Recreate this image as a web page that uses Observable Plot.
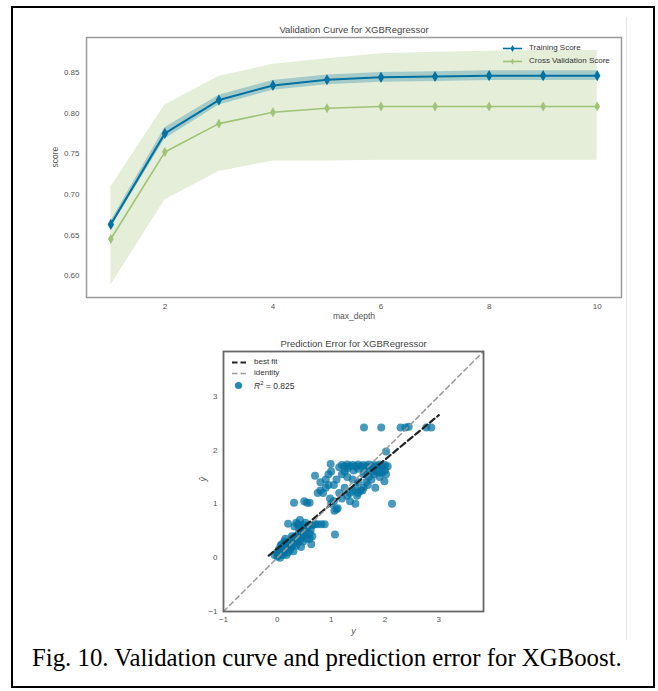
<!DOCTYPE html>
<html>
<head>
<meta charset="utf-8">
<script src="https://cdn.jsdelivr.net/npm/d3@7"></script>
<script src="https://cdn.jsdelivr.net/npm/@observablehq/plot@0.6"></script>
<style>
  html, body { margin: 0; padding: 0; background: #fff; }
  #page { position: relative; width: 658px; height: 691px; overflow: hidden; background: #fff; font-family: "Liberation Sans", Arial, sans-serif; }
  #frame { position: absolute; left: 11px; top: 6px; width: 640px; height: 678px; border: 2px solid #000; }
  #edge { position: absolute; left: 626px; top: 17px; width: 1px; height: 623px; background: #e4e4e4; }
  .chart { position: absolute; left: 0; }
  .leg { position: absolute; font-size: 8px; color: #333; white-space: nowrap; line-height: 1; }
  .leg svg { position: absolute; overflow: visible; }
  #caption { position: absolute; left: 32px; top: 644px; font-family: "Liberation Serif", "Times New Roman", serif; font-size: 24.8px; color: #000; white-space: nowrap; }
</style>
</head>
<body>
<div id="page">
  <div id="frame"></div>
  <div id="edge"></div>
  <div id="topChart" class="chart" style="top:0px"></div>
  <div id="bottomChart" class="chart" style="top:330px"></div>
  <div id="caption">Fig. 10. Validation curve and prediction error for XGBoost.</div>
</div>
<script>
// ---------- Validation curve data ----------
const depths    = [1, 2, 3, 4, 5, 6, 7, 8, 9, 10];
const trainMean = [0.663, 0.775, 0.816, 0.834, 0.841, 0.844, 0.845, 0.846, 0.846, 0.846];
const trainLo   = [0.659, 0.768, 0.810, 0.828, 0.835, 0.838, 0.839, 0.840, 0.840, 0.840];
const trainHi   = [0.667, 0.782, 0.822, 0.840, 0.847, 0.850, 0.851, 0.852, 0.852, 0.852];
const cvMean    = [0.645, 0.752, 0.787, 0.801, 0.806, 0.808, 0.808, 0.808, 0.808, 0.808];
const cvLo      = [0.588, 0.693, 0.728, 0.741, 0.741, 0.742, 0.742, 0.742, 0.742, 0.742];
const cvHi      = [0.709, 0.810, 0.845, 0.860, 0.867, 0.873, 0.875, 0.876, 0.877, 0.877];
const xTicksTop = [2, 4, 6, 8, 10];
const yTicksTop = [0.60, 0.65, 0.70, 0.75, 0.80, 0.85];

// ---------- Prediction error data ----------
const yTrue = [
  0.00,0.02,0.05,0.05,0.08,0.10,0.10,0.12,0.14,0.15,0.17,0.18,0.20,0.20,0.22,0.24,0.25,0.26,0.28,0.30,
  0.30,0.32,0.34,0.35,0.36,0.38,0.40,0.42,0.44,0.45,0.48,0.50,0.06,0.03,0.13,0.08,-0.05,0.00,0.15,0.27,
  0.20,0.32,0.35,0.38,0.42,0.45,0.48,0.50,0.52,0.55,0.58,0.60,0.62,0.65,0.70,0.75,0.82,0.88,0.63,0.55,
  0.60,0.45,0.65,1.07,0.40,0.52,
  0.31,0.55,0.60,0.50,0.70,0.75,0.80,0.85,0.90,0.95,0.80,0.90,0.98,1.00,1.05,1.06,1.10,1.12,1.05,1.10,
  1.15,1.20,1.25,1.30,1.35,1.40,1.45,1.50,1.55,1.60,1.35,1.45,1.50,1.65,1.70,1.75,1.82,1.80,1.85,1.90,
  1.99,2.13,1.20,1.30,1.40,1.60,1.25,0.95,1.00,1.58,1.68,1.48,
  0.99,1.20,1.25,1.30,1.35,1.40,1.45,1.50,1.55,1.60,1.65,1.70,1.75,1.80,1.85,1.90,1.95,2.00,2.05,1.15,
  1.30,1.50,1.70,1.90,2.00,1.95,2.02,1.42,1.62,1.78,1.88,
  1.61,1.93,2.29,2.38,2.44,2.77,2.86,2.02
];
const yPred = [
  0.02,0.05,0.00,0.08,0.12,0.05,0.20,0.10,0.15,0.25,0.05,0.18,0.10,0.28,0.22,0.15,0.30,0.20,0.35,0.25,
  0.12,0.30,0.40,0.22,0.35,0.28,0.45,0.32,0.20,0.38,0.30,0.42,0.22,0.15,0.30,0.25,0.05,0.10,0.35,0.40,
  0.63,0.58,0.65,0.62,0.70,0.55,0.60,0.50,0.65,0.55,0.60,0.45,0.52,0.60,0.62,0.62,0.62,0.62,0.25,0.35,
  0.35,0.48,0.40,0.43,0.55,0.45,
  1.02,1.02,1.02,1.05,1.52,1.20,1.25,1.20,1.30,1.35,1.40,1.45,1.10,1.00,1.05,0.87,0.90,0.92,1.35,1.45,
  1.20,1.10,1.30,1.15,1.20,1.25,1.30,1.20,1.25,1.30,1.05,1.00,1.40,1.40,1.50,1.45,1.30,1.55,1.60,1.50,
  1.42,1.00,1.55,1.50,1.45,1.55,1.60,1.55,1.60,1.25,1.35,1.15,
  1.74,1.72,1.70,1.73,1.70,1.72,1.70,1.73,1.70,1.72,1.70,1.73,1.70,1.72,1.70,1.73,1.70,1.72,1.70,1.68,
  1.65,1.65,1.65,1.65,1.62,1.58,1.55,1.62,1.60,1.60,1.58,
  2.42,2.42,2.42,2.42,2.43,2.42,2.42,1.97
];
const peDomain = [-1, 3.83];
const peTicks = [-1, 0, 1, 2, 3];
const fitSlope = 0.826, fitIntercept = 0.17, fitRange = [-0.16, 3.0];
const r2 = 0.825;

const BLUE = "#0272a2", GREEN = "#9fc377";

// ---------- Top chart ----------
const vc = depths.map((d, i) => ({depth: d, train: trainMean[i], tlo: trainLo[i], thi: trainHi[i], cv: cvMean[i], clo: cvLo[i], chi: cvHi[i]}));

const topPlot = Plot.plot({
  width: 658, height: 330,
  marginLeft: 86, marginRight: 37, marginTop: 37, marginBottom: 33,
  style: {fontFamily: "'Liberation Sans', Arial, sans-serif", fontSize: "8px", color: "#555", background: "transparent"},
  x: {domain: [0.55, 10.45], ticks: xTicksTop, tickSize: 0, tickPadding: 6, label: null, tickFormat: d3.format("d")},
  y: {domain: [0.573, 0.893], ticks: yTicksTop, tickSize: 0, tickPadding: 7, label: null, tickFormat: d3.format(".2f")},
  marks: [
    Plot.areaY(vc, {x: "depth", y1: "clo", y2: "chi", fill: GREEN, fillOpacity: 0.28}),
    Plot.areaY(vc, {x: "depth", y1: "tlo", y2: "thi", fill: BLUE, fillOpacity: 0.28}),
    Plot.line(vc, {x: "depth", y: "cv", stroke: GREEN, strokeWidth: 1.6}),
    Plot.dot(vc, {x: "depth", y: "cv", symbol: "diamond", r: 3, fill: GREEN, stroke: "none"}),
    Plot.line(vc, {x: "depth", y: "train", stroke: BLUE, strokeWidth: 2}),
    Plot.dot(vc, {x: "depth", y: "train", symbol: "diamond", r: 3.4, fill: BLUE, stroke: "none"}),
    Plot.frame({stroke: "#9a9a9a", strokeWidth: 1.5}),
    Plot.text(["Validation Curve for XGBRegressor"], {text: d => d, frameAnchor: "top", dy: -11, fontSize: 9.5, fill: "#444"}),
    Plot.text(["max_depth"], {text: d => d, frameAnchor: "bottom", dy: 21, fontSize: 8.5, fill: "#555"}),
    Plot.text(["score"], {text: d => d, frameAnchor: "left", dx: -31, rotate: -90, fontSize: 8.5, fill: "#555"})
  ]
});
document.getElementById("topChart").appendChild(topPlot);

// ---------- Bottom chart ----------
const pts = yTrue.map((v, i) => ({y: v, yhat: yPred[i]}));
const identity = peDomain.map(v => ({x: v, y: v}));
const fit = fitRange.map(v => ({x: v, y: fitIntercept + fitSlope * v}));
const minusFmt = d => d < 0 ? "\u2212" + Math.abs(d) : String(d);

const bottomPlot = Plot.plot({
  width: 658, height: 310,
  marginLeft: 223, marginRight: 175, marginTop: 21, marginBottom: 29,
  style: {fontFamily: "'Liberation Sans', Arial, sans-serif", fontSize: "8px", color: "#555", background: "transparent"},
  x: {domain: peDomain, ticks: peTicks, tickSize: 0, tickPadding: 5, label: null, tickFormat: minusFmt},
  y: {domain: peDomain, ticks: peTicks, tickSize: 0, tickPadding: 6, label: null, tickFormat: minusFmt},
  marks: [
    Plot.dot(pts, {x: "y", y: "yhat", r: 4, fill: BLUE, fillOpacity: 0.72, stroke: "none"}),
    Plot.line(fit, {x: "x", y: "y", stroke: "#222", strokeWidth: 2.2, strokeDasharray: "6,3.5"}),
    Plot.line(identity, {x: "x", y: "y", stroke: "#999", strokeWidth: 1.5, strokeDasharray: "5,3.5"}),
    Plot.frame({stroke: "#666", strokeWidth: 1.8}),
    Plot.text(["Prediction Error for XGBRegressor"], {text: d => d, frameAnchor: "top", dy: -11, fontSize: 9.5, fill: "#444"}),
    Plot.text(["y"], {text: d => d, frameAnchor: "bottom", dy: 22, fontSize: 9, fontStyle: "italic", fill: "#555"}),
    Plot.text(["\u0177"], {text: d => d, frameAnchor: "left", dx: -20, rotate: -90, fontSize: 9, fontStyle: "italic", fill: "#555"})
  ]
});
document.getElementById("bottomChart").appendChild(bottomPlot);

// ---------- Legends (HTML) ----------
const page = document.getElementById("page");
function legendRow(x, y, sample, label) {
  const d = document.createElement("div");
  d.className = "leg";
  d.style.left = x + "px"; d.style.top = (y - 4.5) + "px";
  d.innerHTML = sample + label;
  page.appendChild(d);
}
const diamond = (c, sz) => `<svg width="20" height="9" style="left:-26px;top:0px"><line x1="0" y1="4.5" x2="19" y2="4.5" stroke="${c}" stroke-width="1.6"/><path d="M9.5,${4.5 - sz} L${9.5 + sz * 0.58},4.5 L9.5,${4.5 + sz} L${9.5 - sz * 0.58},4.5 Z" fill="${c}"/></svg>`;
legendRow(529, 48, diamond(BLUE, 3.4), "Training Score");
legendRow(529, 61, diamond(GREEN, 3), "Cross Validation Score");

const dash = (c, w) => `<svg width="14" height="9" style="left:-22px;top:0px"><line x1="0" y1="4.5" x2="14" y2="4.5" stroke="${c}" stroke-width="${w}" stroke-dasharray="5.5,3"/></svg>`;
const circ = `<svg width="14" height="9" style="left:-22px;top:0px"><circle cx="6.5" cy="4.5" r="3.6" fill="${BLUE}" fill-opacity="0.85"/></svg>`;
legendRow(254, 362, dash("#222", 2.2), "best fit");
legendRow(254, 373, dash("#999", 1.5), "identity");
legendRow(254, 385, circ, `<span style="font-size:8.5px"><i>R</i><sup style="font-size:6px">2</sup> = ${r2.toFixed(3)}</span>`);
</script>
</body>
</html>
